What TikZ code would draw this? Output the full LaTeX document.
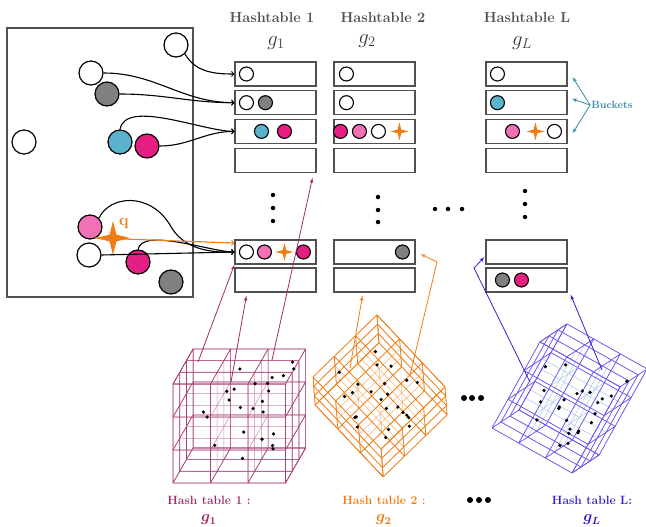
\documentclass[tikz,border=0pt]{standalone}
\usepackage{tikz}
\usepackage{graphicx}
\usepackage{amsmath}
\usetikzlibrary{shapes,arrows,positioning}
\definecolor{ciruela}{RGB}{160,45,105}
\definecolor{naranja}{RGB}{240,125,20}
\definecolor{azulL}{RGB}{50,30,210}
\definecolor{violeta}{RGB}{115,85,240}
\definecolor{celeste}{RGB}{170,200,232}
\definecolor{cian}{RGB}{90,178,204}
\definecolor{fucsia}{RGB}{228,30,130}
\definecolor{rosa}{RGB}{242,112,182}
\definecolor{gris}{RGB}{128,128,128}
\definecolor{verdeazul}{RGB}{55,140,165}
\definecolor{borde}{RGB}{80,80,80}
\definecolor{tinta}{RGB}{55,58,66}
\tikzstyle{bucket} = [rectangle, draw=borde, line width=1.1pt, minimum width=81pt, minimum height=24pt, inner sep=0pt]
\tikzstyle{bola} = [circle, draw=black, line width=1.2pt, minimum size=24pt, inner sep=0pt]
\tikzstyle{bolita} = [circle, draw=black, line width=1.1pt, minimum size=14pt, inner sep=0pt]
\tikzstyle{blancaF} = [fill=white]
\tikzstyle{grisF} = [fill=gris]
\tikzstyle{cianF} = [fill=cian]
\tikzstyle{fucsiaF} = [fill=fucsia]
\tikzstyle{rosaF} = [fill=rosa]
\tikzstyle{estrella} = [star, star points=4, star point ratio=3.5, fill=naranja, inner sep=0pt, minimum size=18pt]
\tikzstyle{titulo} = [text=borde, font=\fontsize{14.5}{17}\selectfont\bfseries]
\tikzstyle{funcion} = [text=tinta, font=\fontsize{17}{19}\selectfont]
\tikzstyle{etqHash} = [font=\fontsize{12}{14}\selectfont\bfseries]
\tikzstyle{flechaN} = [draw, ->, line width=1.1pt]
\tikzstyle{flechaQ} = [draw=naranja, ->, line width=1.1pt]
\tikzstyle{flechaC1} = [draw=ciruela, -latex', line width=0.8pt]
\tikzstyle{flechaC2} = [draw=naranja, -latex', line width=0.8pt]
\tikzstyle{flechaCL} = [draw=azulL, -latex', line width=0.8pt]
\tikzstyle{flechaB} = [draw=verdeazul, -latex', line width=0.8pt]
\tikzstyle{punto} = [circle, fill=black, inner sep=0pt, minimum size=4.5pt]

% rejilla 3x3x3 de un cubo (#1 aristas, #2 interior)
\newcommand{\rejillaCubo}[2]{%
  \foreach \i in {0,...,3} \foreach \j in {0,...,3} {
    \draw[#2, line width=0.5pt] (0,\i,\j) -- (3,\i,\j) (\i,0,\j) -- (\i,3,\j) (\i,\j,0) -- (\i,\j,3);
  }
  \foreach \i in {0,3} \foreach \j in {0,...,3} {
    \draw[#1, line width=0.7pt] (0,\i,\j) -- (3,\i,\j) (0,\j,\i) -- (3,\j,\i)
      (\i,0,\j) -- (\i,3,\j) (\j,0,\i) -- (\j,3,\i)
      (\i,\j,0) -- (\i,\j,3) (\j,\i,0) -- (\j,\i,3);
  }
}
% puntos dentro del cubo
\newcommand{\puntosCubo}[1]{%
  \pgfmathsetseed{#1}
  \foreach \k in {1,...,24}
    \fill ({0.2+2.6*rnd},{0.2+2.6*rnd},{0.2+2.6*rnd}) circle (1.8pt);
}

\begin{document}
\begin{tikzpicture}[x=1pt, y=-1pt, node distance=28.7pt]
  \useasboundingbox (0,0) rectangle (646,527);

  % espacio de datos
  \draw[borde, line width=1.1pt] (7,28) rectangle (193,297);
  \node[bola, blancaF] (c1) at (176,45) {};
  \node[bola, blancaF] (c2) at (91,73) {};
  \node[bola, grisF] (c3) at (107,94) {};
  \node[bola, blancaF] (c4) at (24,142) {};
  \node[bola, cianF] (c5) at (120,142) {};
  \node[bola, fucsiaF] (c6) at (147,146) {};
  \node[bola, rosaF] (c7) at (90,227) {};
  \node[bola, blancaF] (c8) at (89,255) {};
  \node[bola, fucsiaF] (c9) at (138,262) {};
  \node[bola, grisF] (c10) at (171,282) {};
  \node[estrella, minimum size=34pt] (q) at (113,238) {};
  \node[text=naranja, font=\fontsize{16}{17}\selectfont\bfseries] (etqQ) at (124,223) {q};

  % titulos
  \node[titulo] (ht1) at (272,18) {Hashtable 1};
  \node[funcion, below of=ht1, node distance=25pt, xshift=4pt] (g1) {\scalebox{1.2}{$g_1$}};
  \node[titulo] (ht2) at (383,18) {Hashtable 2};
  \node[funcion, below of=ht2, node distance=23pt, xshift=-16pt] (g2) {\scalebox{1.2}{$g_2$}};
  \node[titulo] (htL) at (527,18) {Hashtable L};
  \node[funcion, below of=htL, node distance=25pt, xshift=-5pt] (gL) {\scalebox{1.2}{$g_L$}};

  % buckets
  \node[bucket] (t1b1) at (275.5,74) {};
  \node[bucket, below of=t1b1] (t1b2) {};
  \node[bucket, below of=t1b2] (t1b3) {};
  \node[bucket, below of=t1b3] (t1b4) {};
  \node[bucket] (t1b5) at (275.5,252) {};
  \node[bucket, below of=t1b5, node distance=28pt] (t1b6) {};
  \node[bucket] (t2b1) at (374.5,74) {};
  \node[bucket, below of=t2b1] (t2b2) {};
  \node[bucket, below of=t2b2] (t2b3) {};
  \node[bucket, below of=t2b3] (t2b4) {};
  \node[bucket] (t2b5) at (374.5,252) {};
  \node[bucket, below of=t2b5, node distance=28pt] (t2b6) {};
  \node[bucket] (tLb1) at (526.5,74) {};
  \node[bucket, below of=tLb1] (tLb2) {};
  \node[bucket, below of=tLb2] (tLb3) {};
  \node[bucket, below of=tLb3] (tLb4) {};
  \node[bucket] (tLb5) at (526.5,252) {};
  \node[bucket, below of=tLb5, node distance=28pt] (tLb6) {};

  % contenido de los buckets
  \node[bolita, blancaF] (t1b1a) at ([xshift=12pt]t1b1.west) {};
  \node[bolita, blancaF] (t1b2a) at ([xshift=12pt]t1b2.west) {};
  \node[bolita, grisF] (t1b2b) at ([xshift=31pt]t1b2.west) {};
  \node[bolita, cianF] (t1b3a) at ([xshift=27pt]t1b3.west) {};
  \node[bolita, fucsiaF] (t1b3b) at ([xshift=50pt]t1b3.west) {};
  \node[bolita, blancaF] (t1b5a) at ([xshift=12pt]t1b5.west) {};
  \node[bolita, rosaF] (t1b5b) at ([xshift=30pt]t1b5.west) {};
  \node[estrella] (t1b5c) at ([xshift=50pt]t1b5.west) {};
  \node[bolita, fucsiaF] (t1b5d) at ([xshift=69pt]t1b5.west) {};
  \node[bolita, blancaF] (t2b1a) at ([xshift=13pt]t2b1.west) {};
  \node[bolita, blancaF] (t2b2a) at ([xshift=13pt]t2b2.west) {};
  \node[bolita, fucsiaF] (t2b3a) at ([xshift=7pt]t2b3.west) {};
  \node[bolita, rosaF] (t2b3b) at ([xshift=26pt]t2b3.west) {};
  \node[bolita, blancaF] (t2b3c) at ([xshift=45pt]t2b3.west) {};
  \node[estrella] (t2b3d) at ([xshift=66pt]t2b3.west) {};
  \node[bolita, grisF] (t2b5a) at ([xshift=69pt]t2b5.west) {};
  \node[bolita, blancaF] (tLb1a) at ([xshift=12pt]tLb1.west) {};
  \node[bolita, cianF] (tLb2a) at ([xshift=12pt]tLb2.west) {};
  \node[bolita, rosaF] (tLb3a) at ([xshift=27pt]tLb3.west) {};
  \node[estrella] (tLb3b) at ([xshift=50pt]tLb3.west) {};
  \node[bolita, blancaF] (tLb3c) at ([xshift=69pt]tLb3.west) {};
  \node[bolita, grisF] (tLb6a) at ([xshift=17pt]tLb6.west) {};
  \node[bolita, fucsiaF] (tLb6b) at ([xshift=36pt]tLb6.west) {};

  % puntos suspensivos
  \foreach \y in {195,208,221} \node[punto] at (273,\y) {};
  \foreach \y in {197,210,222} \node[punto] at (378,\y) {};
  \foreach \y in {191,204,217} \node[punto] at (525,\y) {};
  \foreach \x in {435,448,462} \node[punto] at (\x,209) {};
  \foreach \x in {464,472,481} \node[punto, minimum size=6pt] at (\x,398) {};
  \foreach \x in {470,479,488} \node[punto, minimum size=6pt] at (\x,500) {};

  % Buckets
  \node[text=verdeazul, font=\fontsize{10.5}{12}\selectfont\bfseries, inner sep=1pt] (buckets) at (612,105) {Buckets};
  \path[flechaB] (buckets.west) -- ([xshift=5pt,yshift=-3pt]tLb1.east);
  \path[flechaB] (buckets.west) -- ([xshift=4pt,yshift=4pt]tLb2.east);
  \path[flechaB] (buckets.west) -- ([xshift=5pt,yshift=-2pt]tLb3.east);

  % edges
  \path[flechaN] (c1.south east) to[out=-60,in=180] (t1b1.west);
  \path[flechaN] (c2.east) to[out=0,in=180] (t1b2.west);
  \path[flechaN] (c3.east) to[out=0,in=180] (t1b2.west);
  \path[flechaN] (c5.north) to[out=80,in=180,looseness=0.7] (t1b3.west);
  \path[flechaN] (c6.east) to[out=0,in=180] (t1b3.west);
  \path[flechaN] (c7.north east) .. controls (110,195) and (150,192) .. (170,225)
     .. controls (182,247) and (205,253) .. (t1b5.west);
  \path[flechaN] (c8.east) -- (t1b5.west);
  \path[flechaN] (c9.north) to[out=80,in=180,looseness=0.6] (t1b5.west);
  \path[flechaQ] (q.west) -- ([yshift=9pt]t1b5.west);

  % cubos
  \begin{scope}[shift={(173,483)}, x={(37.5pt,0pt)}, y={(0pt,33pt)}, z={(6.7pt,11.7pt)}]
    \rejillaCubo{ciruela!90}{ciruela!55}
    \puntosCubo{3}
  \end{scope}
  \begin{scope}[shift={(313,377)}, x={(21.3pt,20.7pt)}, y={(22.7pt,-24pt)}, z={(0.7pt,-9.3pt)}]
    \rejillaCubo{naranja}{naranja!60}
    \puntosCubo{5}
  \end{scope}
  \begin{scope}[shift={(492,428)}, x={(26.7pt,-15pt)}, y={(16pt,28.7pt)}, z={(9pt,6pt)}]
    \rejillaCubo{violeta}{celeste}
    \puntosCubo{8}
  \end{scope}

  % flechas de los cubos
  \coordinate (p1a) at (198,362);
  \coordinate (p1b) at (231,382);
  \coordinate (p1c) at (272,360);
  \coordinate (p2a) at (350,368);
  \coordinate (p2b) at (410,375);
  \coordinate (pLa) at (530,382);
  \coordinate (pLb) at (602,370);
  \path[flechaC1] (p1a) -- (t1b5.south west);
  \path[flechaC1] (p1b) -- ([xshift=12pt,yshift=-3pt]t1b6.south west);
  \path[flechaC1] (p1c) -- ([xshift=-4pt,yshift=-5pt]t1b4.south east);
  \path[flechaC2] (p2a) -- ([xshift=-12pt,yshift=-3pt]t2b6.south);
  \path[flechaC2] (p2b) -- (437,262) -- ([xshift=5pt,yshift=-2pt]t2b5.east);
  \path[flechaCL] (pLa) -- (474,268) -- ([xshift=-1pt,yshift=-5pt]tLb5.west);
  \path[flechaCL] (pLb) -- ([xshift=3pt,yshift=-2pt]tLb6.south east);

  % etiquetas de abajo
  \node[etqHash, text=ciruela] (hash1) at (209,500) {Hash table 1 :};
  \node[etqHash, text=ciruela, below of=hash1, node distance=20pt] (hg1) {\scalebox{1.3}{$\boldsymbol{g_1}$}};
  \node[etqHash, text=naranja] (hash2) at (384,500) {Hash table 2 :};
  \node[etqHash, text=naranja, below of=hash2, node distance=20pt] (hg2) {\scalebox{1.3}{$\boldsymbol{g_2}$}};
  \node[etqHash, text=azulL] (hashL) at (592,500) {Hash table L:};
  \node[etqHash, text=azulL, below of=hashL, node distance=20pt] (hgL) {\scalebox{1.3}{$\boldsymbol{g_L}$}};
\end{tikzpicture}
\end{document}
